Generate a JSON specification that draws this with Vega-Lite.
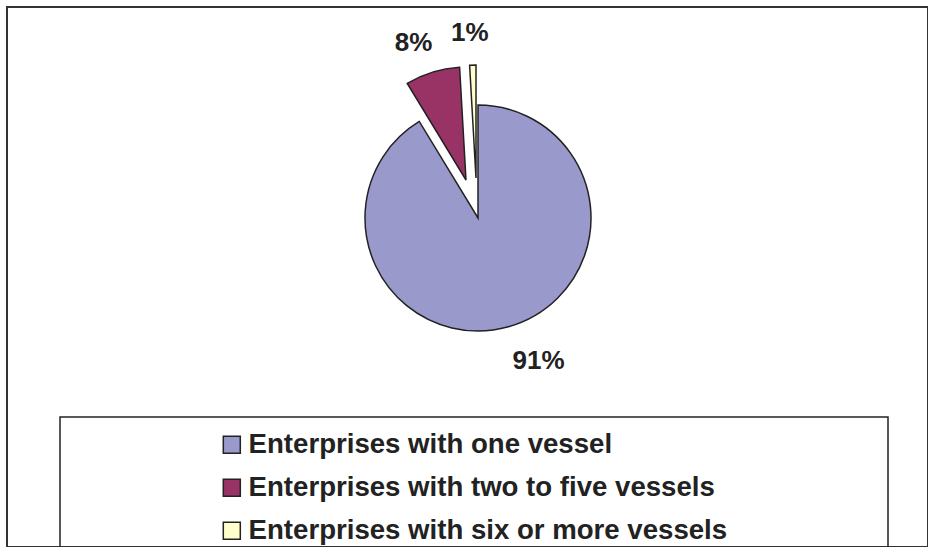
{
  "$schema": "https://vega.github.io/schema/vega-lite/v6.json",
  "width": 921,
  "height": 540,
  "autosize": "none",
  "padding": {"left": 7, "top": 7, "right": 0, "bottom": 0},
  "background": "white",
  "view": {"stroke": "#333333", "strokeWidth": 2},
  "data": {
    "values": [
      {"category": "Enterprises with one vessel", "share": 0.913},
      {"category": "Enterprises with two to five vessels", "share": 0.078},
      {"category": "Enterprises with six or more vessels", "share": 0.009}
    ]
  },
  "layer": [
    {
      "transform": [
        {"stack": "share", "groupby": [], "as": ["v0", "v1"], "sort": [{"field": "share", "order": "descending"}]},
        {"filter": "datum.category == 'Enterprises with one vessel'"}
      ],
      "mark": {"type": "arc", "radius": 113, "stroke": "#222222", "strokeWidth": 1.5, "xOffset": 10.5, "yOffset": -59},
      "encoding": {
        "theta": {"field": "v0", "type": "quantitative", "scale": {"domain": [0, 1]}},
        "theta2": {"field": "v1"},
        "color": {
          "field": "category", "type": "nominal",
          "scale": {
            "domain": ["Enterprises with one vessel", "Enterprises with two to five vessels", "Enterprises with six or more vessels"],
            "range": ["#9999CC", "#993366", "#FFFFCC"]
          },
          "legend": {
            "orient": "none", "legendX": 53, "legendY": 410,
            "title": ".", "titleOrient": "right", "titleOpacity": 0, "titleFontSize": 8, "titlePadding": 144,
            "symbolType": "square", "symbolSize": 289, "symbolStrokeColor": "#222222", "symbolStrokeWidth": 1.5,
            "symbolOffset": 144, "labelOffset": 3,
            "labelFont": "Liberation Sans", "labelFontWeight": "bold", "labelFontSize": 27.6, "labelColor": "#222222", "labelLimit": 900,
            "rowPadding": 14, "padding": 14, "strokeColor": "#222222"
          }
        }
      }
    },
    {
      "transform": [
        {"stack": "share", "groupby": [], "as": ["v0", "v1"], "sort": [{"field": "share", "order": "descending"}]},
        {"filter": "datum.category == 'Enterprises with two to five vessels'"}
      ],
      "mark": {"type": "arc", "radius": 113, "stroke": "#222222", "strokeWidth": 1.5, "xOffset": -1.5, "yOffset": -97},
      "encoding": {
        "theta": {"field": "v0", "type": "quantitative"},
        "theta2": {"field": "v1"},
        "color": {"field": "category", "type": "nominal"}
      }
    },
    {
      "transform": [
        {"stack": "share", "groupby": [], "as": ["v0", "v1"], "sort": [{"field": "share", "order": "descending"}]},
        {"filter": "datum.category == 'Enterprises with six or more vessels'"}
      ],
      "mark": {"type": "arc", "radius": 113, "stroke": "#222222", "strokeWidth": 1.5, "xOffset": 8.5, "yOffset": -99},
      "encoding": {
        "theta": {"field": "v0", "type": "quantitative"},
        "theta2": {"field": "v1"},
        "color": {"field": "category", "type": "nominal"}
      }
    },
    {
      "mark": {"type": "text", "radius": 150, "xOffset": 30.5, "yOffset": -60, "font": "Liberation Sans", "fontWeight": "bold", "fontSize": 26, "color": "#222222", "baseline": "middle", "align": "center"},
      "encoding": {
        "theta": {"field": "share", "type": "quantitative", "stack": true},
        "order": {"field": "share", "type": "quantitative", "sort": "descending"},
        "text": {"field": "share", "type": "quantitative", "format": ".0%"},
        "opacity": {"condition": {"test": "datum.category == 'Enterprises with one vessel'", "value": 1}, "value": 0}
      }
    },
    {
      "mark": {"type": "text", "radius": 143, "xOffset": -11.5, "yOffset": -97, "font": "Liberation Sans", "fontWeight": "bold", "fontSize": 26, "color": "#222222", "baseline": "middle", "align": "center"},
      "encoding": {
        "theta": {"field": "share", "type": "quantitative", "stack": true},
        "order": {"field": "share", "type": "quantitative", "sort": "descending"},
        "text": {"field": "share", "type": "quantitative", "format": ".0%"},
        "opacity": {"condition": {"test": "datum.category == 'Enterprises with two to five vessels'", "value": 1}, "value": 0}
      }
    },
    {
      "mark": {"type": "text", "radius": 145, "xOffset": 6.5, "yOffset": -99, "font": "Liberation Sans", "fontWeight": "bold", "fontSize": 26, "color": "#222222", "baseline": "middle", "align": "center"},
      "encoding": {
        "theta": {"field": "share", "type": "quantitative", "stack": true},
        "order": {"field": "share", "type": "quantitative", "sort": "descending"},
        "text": {"field": "share", "type": "quantitative", "format": ".0%"},
        "opacity": {"condition": {"test": "datum.category == 'Enterprises with six or more vessels'", "value": 1}, "value": 0}
      }
    }
  ],
  "config": {
    "view": {"stroke": "#333333", "strokeWidth": 2},
    "legend": {"strokeWidth": 1.5}
  }
}
